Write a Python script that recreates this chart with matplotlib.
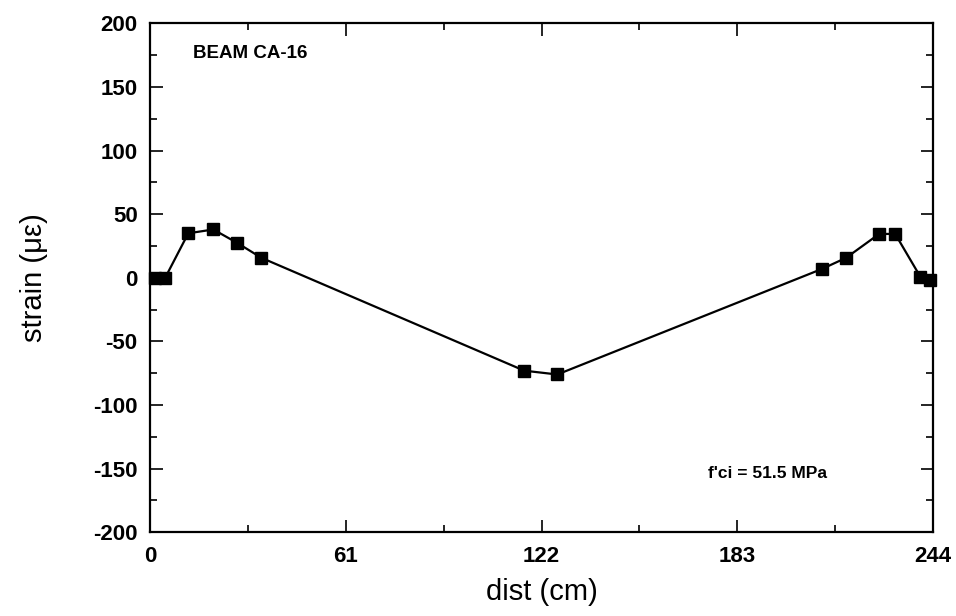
import matplotlib
matplotlib.use("Agg")
import matplotlib.pyplot as plt
from matplotlib.ticker import MultipleLocator

plt.rcParams["font.family"] = ["Liberation Sans", "DejaVu Sans"]
plt.rcParams["axes.unicode_minus"] = False

# Beam CA-16 strain profile
dist_cm = [1.6, 4.7, 11.9, 19.7, 27.1, 34.7, 116.6, 126.9,
           209.4, 216.9, 227.2, 232.2, 240.0, 243.0]
strain_ue = [0.0, 0.0, 35.0, 38.0, 27.5, 15.7, -73.0, -76.0,
             7.0, 15.7, 34.5, 34.5, 1.0, -1.5]
x_ticks = [0, 61, 122, 183, 244]

fig = plt.figure(figsize=(9.56, 6.16), dpi=100)
ax = fig.add_axes([0.157, 0.136, 0.819, 0.826])

ax.plot(dist_cm, strain_ue, color="black", lw=1.6, marker="s", ms=9,
        mfc="black", mec="black", clip_on=False, zorder=3)

ax.set_xlim(0, 244)
ax.set_ylim(-200, 200)
ax.set_xticks(x_ticks)
ax.xaxis.set_minor_locator(MultipleLocator(30.5))
ax.yaxis.set_major_locator(MultipleLocator(50))
ax.yaxis.set_minor_locator(MultipleLocator(25))
ax.tick_params(which="both", direction="in", top=True, right=True, width=1.2)
ax.tick_params(which="major", length=9, labelsize=16)
ax.tick_params(which="minor", length=5)
ax.tick_params(axis="y", pad=9)
ax.tick_params(axis="x", pad=10)
for lab in ax.get_xticklabels() + ax.get_yticklabels():
    lab.set_fontweight("bold")
for sp in ax.spines.values():
    sp.set_linewidth(1.6)

ax.set_xlabel("dist (cm)", fontsize=21)
ax.set_ylabel("strain (\u03bc\u03b5)", fontsize=21)
ax.xaxis.set_label_coords(0.5, -0.09)
ax.yaxis.set_label_coords(-0.131, 0.5)

ax.text(0.055, 0.94, "BEAM CA-16", transform=ax.transAxes, fontsize=13.5,
        fontweight="bold", va="center", ha="left")
ax.text(0.712, 0.115, "f'ci = 51.5 MPa", transform=ax.transAxes, fontsize=12.5,
        fontweight="bold", va="center", ha="left")

fig.savefig("out.png", dpi=100)
